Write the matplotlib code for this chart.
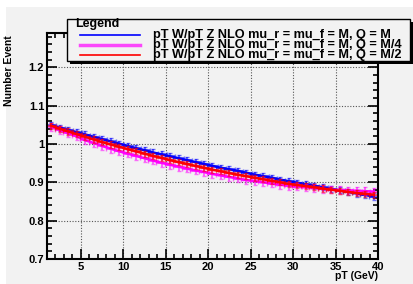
import numpy as np
import matplotlib
matplotlib.use("Agg")
from matplotlib import pyplot as plt
from matplotlib.patches import Rectangle
from matplotlib.lines import Line2D
from matplotlib.ticker import MultipleLocator

plt.rcParams['font.family'] = ['Liberation Sans', 'DejaVu Sans']
plt.rcParams['font.weight'] = 'bold'

# bin centres (GeV) and ratios
pt = np.arange(1.5, 40.0, 1.0)
ratio_M = [1.050, 1.043, 1.037, 1.031, 1.025, 1.019, 1.013, 1.007, 1.001, 0.995,
           0.989, 0.984, 0.978, 0.973, 0.968, 0.963, 0.958, 0.953, 0.948, 0.943,
           0.938, 0.934, 0.930, 0.925, 0.920, 0.916, 0.912, 0.907, 0.903, 0.899,
           0.895, 0.891, 0.887, 0.883, 0.879, 0.875, 0.871, 0.867, 0.863]
ratio_M4 = [1.045, 1.036, 1.028, 1.020, 1.010, 1.003, 0.995, 0.988, 0.981, 0.975,
            0.969, 0.963, 0.957, 0.951, 0.946, 0.941, 0.936, 0.931, 0.927, 0.922,
            0.918, 0.914, 0.910, 0.906, 0.903, 0.900, 0.897, 0.894, 0.891, 0.889,
            0.887, 0.885, 0.883, 0.881, 0.880, 0.879, 0.878, 0.877, 0.876]
ratio_M2 = [1.048, 1.040, 1.033, 1.026, 1.019, 1.012, 1.005, 0.999, 0.993, 0.987,
            0.981, 0.975, 0.969, 0.964, 0.958, 0.953, 0.948, 0.943, 0.938, 0.933,
            0.929, 0.924, 0.920, 0.916, 0.912, 0.908, 0.904, 0.900, 0.896, 0.893,
            0.890, 0.887, 0.884, 0.881, 0.878, 0.875, 0.872, 0.870, 0.868]
err_M = 0.008
err_M4 = 0.010
err_M2 = 0.008

labels = ['pT W/pT Z NLO mu_r = mu_f = M, Q = M',
          'pT W/pT Z NLO mu_r = mu_f = M, Q = M/4',
          'pT W/pT Z NLO mu_r = mu_f = M, Q = M/2']
colors = ['#0000ff', '#ff00ff', '#ff0000']

W, H = 414, 284
fig = plt.figure(figsize=(W / 100, H / 100), dpi=100)
fig.patch.set_facecolor('white')
fig.patches.append(Rectangle((6 / W, 0), 1, 1 - 7 / H, transform=fig.transFigure,
                             facecolor='#f2f2f2', edgecolor='none', zorder=-10))

ax = fig.add_axes([47 / W, 25 / H, 331 / W, 226 / H])
ax.set_facecolor('#f2f2f2')
ax.set_xlim(1, 40)
ax.set_ylim(0.7, 1.29)

for y, e, c in zip([ratio_M, ratio_M4, ratio_M2], [err_M, err_M4, err_M2], colors):
    ax.errorbar(pt, y, xerr=0.6, yerr=e, fmt='none', ecolor=c, elinewidth=1.5,
                alpha=0.55, capsize=1.5, capthick=1)
    ax.plot(pt, y, color=c, lw=1.8)

ax.xaxis.set_major_locator(MultipleLocator(5))
ax.xaxis.set_minor_locator(MultipleLocator(1))
ax.yaxis.set_major_locator(MultipleLocator(0.1))
ax.yaxis.set_minor_locator(MultipleLocator(0.02))
ax.tick_params(which='both', direction='in', top=True, right=True, width=1.2)
ax.tick_params(which='major', length=7, labelsize=8, pad=2)
ax.tick_params(which='minor', length=3.5)
ax.set_xticks([5, 10, 15, 20, 25, 30, 35, 40])
ax.set_yticks([0.7, 0.8, 0.9, 1.0, 1.1, 1.2])
ax.set_yticklabels(['0.7', '0.8', '0.9', '1', '1.1', '1.2'])
ax.grid(True, which='major', color='#555555', linestyle=(0, (1, 1.5)), lw=0.8)
for s in ax.spines.values():
    s.set_linewidth(1.5)

fig.text(378 / W, 1 - 276 / H, 'pT (GeV)', ha='right', va='center', fontsize=7.5, fontweight='bold')
fig.text(9 / W, 1 - 35 / H, 'Number Event', ha='center', va='top', rotation=90,
         fontsize=7.5, fontweight='bold')

# legend box with shadow
lx0, ly0, lx1, ly1 = 67, 19, 410, 61
fig.patches.append(Rectangle(((lx0 + 3) / W, 1 - (ly1 + 3) / H), (lx1 - lx0) / W, (ly1 - ly0) / H,
                             transform=fig.transFigure, facecolor='black', edgecolor='none', zorder=5))
fig.patches.append(Rectangle((lx0 / W, 1 - ly1 / H), (lx1 - lx0) / W, (ly1 - ly0) / H,
                             transform=fig.transFigure, facecolor='#f2f2f2', edgecolor='black',
                             lw=1, zorder=6))
fig.text(75 / W, 1 - 24 / H, 'Legend', fontsize=9, fontweight='bold', va='center', zorder=7)
for i, (lab, c) in enumerate(zip(labels, colors)):
    yy = 1 - (35 + 9.8 * i) / H
    fig.lines.append(Line2D([80 / W, 140 / W], [yy, yy], transform=fig.transFigure,
                            color=c, lw=1.2 if i != 1 else 2.5, alpha=1 if i != 1 else 0.7, zorder=7))
    fig.text(153 / W, yy, lab, fontsize=9.2, fontweight='bold', va='center', zorder=7)

fig.savefig('out.png', dpi=100)
